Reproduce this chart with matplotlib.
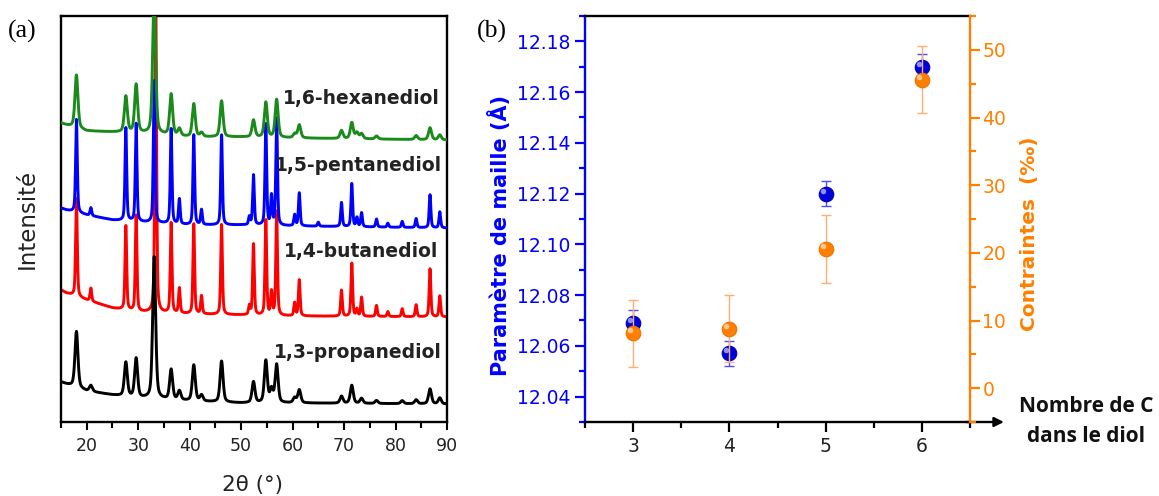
import numpy as np
import matplotlib
matplotlib.use('Agg')
import matplotlib.pyplot as plt
from matplotlib.ticker import MultipleLocator
import matplotlib.transforms as mtransforms

plt.rcParams['font.family'] = ['DejaVu Sans']

# ---------------- Panel (a): XRD patterns ----------------
series_names = ['1,3-propanediol', '1,4-butanediol', '1,5-pentanediol', '1,6-hexanediol']
series_colors = ['#000000', '#FF0000', '#0000FF', '#1A8A1A']
offsets = [18, 105, 194, 282]
hwhm = [0.34, 0.19, 0.19, 0.34]

baseline_x = [15, 16, 20, 25, 30, 40, 50, 60, 90]
baseline_black = [22, 20, 13, 9, 6, 3, 1, 1, 0]
baseline_red = [27, 24, 17, 9, 5, 3, 2, 1, 0]
baseline_blue = [20, 18, 13, 8, 6, 3, 3, 2, 0]
baseline_green = [17, 15, 9, 8, 7, 3, 3, 2, 0]

pos_black = [18.0, 20.8, 27.6, 29.6, 33.1, 36.4, 38.0, 40.8, 42.3, 46.2, 52.4, 54.8, 55.9, 56.9,
             60.4, 61.3, 69.5, 71.5, 73.4, 76.3, 81.3, 84.0, 86.7, 88.6]
h_black = [56, 6, 34, 39, 142, 30, 9, 36, 6, 41, 21, 42, 13, 38,
           5, 13, 7, 18, 5, 3, 3, 4, 15, 6]

pos_red = [18.0, 20.8, 27.6, 29.6, 33.4, 36.4, 38.0, 40.8, 42.3, 46.2, 51.6, 52.4, 54.8, 55.9, 56.9,
           60.4, 61.3, 69.5, 71.5, 72.5, 73.4, 76.3, 78.5, 81.3, 84.0, 86.7, 88.6]
h_red = [98, 13, 84, 96, 320, 90, 25, 90, 18, 90, 9, 71, 95, 23, 104,
         13, 36, 26, 53, 7, 19, 11, 5, 8, 12, 48, 21]

pos_blue = [18.0, 20.8, 27.6, 29.6, 33.1, 36.4, 38.0, 40.8, 42.3, 46.2, 51.6, 52.4, 54.8, 55.9, 56.9,
            60.4, 61.3, 65.0, 69.5, 71.5, 72.5, 73.4, 76.3, 78.5, 81.3, 84.0, 86.7, 88.6]
h_blue = [93, 8, 93, 98, 142, 95, 25, 90, 15, 90, 8, 50, 101, 29, 107,
          11, 33, 4, 24, 43, 9, 14, 8, 4, 6, 9, 33, 16]

pos_green = [18.0, 27.6, 29.6, 33.1, 36.4, 38.0, 40.8, 42.3, 46.2, 52.4, 54.8, 56.9,
             60.4, 61.3, 69.5, 71.5, 72.5, 73.4, 76.3, 84.0, 86.7, 88.6]
h_green = [53, 36, 48, 140, 41, 7, 33, 4, 36, 17, 35, 38,
           4, 13, 8, 16, 6, 5, 3, 4, 12, 5]

label_right_x = [89.0, 88.4, 89.0, 88.6]
label_baseline_y = [64, 165, 251, 318]

# ---------------- Panel (b): lattice parameter and strain ----------------
n_carbon = [3, 4, 5, 6]
lattice = [12.069, 12.057, 12.120, 12.170]
lattice_err = [0.005, 0.005, 0.005, 0.005]
strain = [8.1, 8.8, 20.6, 45.6]
strain_err = [5.0, 5.0, 5.0, 5.0]

W, H = 1159, 496
fig = plt.figure(figsize=(W / 100, H / 100), dpi=100)


def fx(px):
    return px / W


def fy(py):
    return 1 - py / H


axa = fig.add_axes([fx(61), fy(422), fx(447) - fx(61), fy(16) - fy(422)])
tt = np.arange(15, 90.0001, 0.02)


def profile(x0, h, w):
    g = np.exp(-np.log(2) * ((tt - x0) / w) ** 2)
    lor = 1.0 / (1.0 + ((tt - x0) / w) ** 2)
    return h * (0.55 * g + 0.45 * lor)


all_bases = [baseline_black, baseline_red, baseline_blue, baseline_green]
all_pos = [pos_black, pos_red, pos_blue, pos_green]
all_h = [h_black, h_red, h_blue, h_green]
zorders = [4, 2, 3, 4.5]
for i in range(4):
    y = np.interp(tt, baseline_x, all_bases[i]) + offsets[i]
    for p, h in zip(all_pos[i], all_h[i]):
        y = y + profile(p, h, hwhm[i])
    axa.plot(tt, y, color=series_colors[i], lw=2.1, zorder=zorders[i])
    axa.text(label_right_x[i], label_baseline_y[i], series_names[i], ha='right', va='baseline',
             fontsize=13.5, fontweight='bold', color='#222222', zorder=6)

axa.set_xlim(15, 90)
axa.set_ylim(0, 406)
axa.set_yticks([])
axa.xaxis.set_major_locator(MultipleLocator(10))
axa.xaxis.set_minor_locator(MultipleLocator(5))
axa.tick_params(axis='x', which='major', direction='out', length=6, width=1.5,
                labelsize=12.5, labelcolor='#222222', pad=5)
axa.tick_params(axis='x', which='minor', direction='out', length=4, width=1.5)
for s in axa.spines.values():
    s.set_linewidth(1.7)

fig.text(fx(253), fy(485), '2θ (°)', ha='center', va='center', fontsize=15.5, color='#222222')
fig.text(fx(27), fy(219), 'Intensité', ha='center', va='center', rotation=90, fontsize=16.5, color='#222222')
fig.text(fx(8), fy(31), '(a)', ha='left', va='center', fontsize=18.5, family='Liberation Serif')
fig.text(fx(477), fy(31), '(b)', ha='left', va='center', fontsize=18.5, family='Liberation Serif')

# ---------------- Panel (b) ----------------
blue = '#0000FF'
orange = '#FF8000'
axb = fig.add_axes([fx(585), fy(422), fx(970) - fx(585), fy(16) - fy(422)])
axb.set_xlim(2.5, 6.5)
axb.set_ylim(12.03, 12.19)
axb.xaxis.set_major_locator(MultipleLocator(1))
axb.xaxis.set_minor_locator(MultipleLocator(0.5))
axb.yaxis.set_major_locator(MultipleLocator(0.02))
axb.yaxis.set_minor_locator(MultipleLocator(0.01))
axb.yaxis.set_major_formatter(matplotlib.ticker.FormatStrFormatter('%.2f'))

ax2 = axb.twinx()
ax2.set_ylim(-5, 55)
ax2.yaxis.set_major_locator(MultipleLocator(10))
ax2.yaxis.set_minor_locator(MultipleLocator(5))

for s in axb.spines.values():
    s.set_linewidth(1.7)
axb.spines['left'].set_color(blue)
axb.spines['right'].set_visible(False)
axb.spines['top'].set_color('black')
for k, s in ax2.spines.items():
    s.set_linewidth(1.7)
    if k != 'right':
        s.set_visible(False)
ax2.spines['right'].set_color(orange)

axb.tick_params(axis='x', which='major', direction='out', length=7, width=1.6,
                labelsize=13.5, labelcolor='#222222', pad=4)
axb.tick_params(axis='x', which='minor', direction='out', length=4, width=1.6)
axb.tick_params(axis='y', which='major', direction='out', length=7, width=1.6, color=blue,
                labelsize=13.5, labelcolor=blue, pad=3.5)
axb.tick_params(axis='y', which='minor', direction='out', length=4, width=1.6, color=blue)
ax2.tick_params(axis='y', which='major', direction='out', length=7, width=1.6, color=orange,
                labelsize=13.5, labelcolor=orange, pad=2)
ax2.tick_params(axis='y', which='minor', direction='out', length=4, width=1.6, color=orange)

# error bars and sphere-like markers
axb.errorbar(n_carbon, lattice, yerr=lattice_err, fmt='none', ecolor='#4D4DFF',
             elinewidth=1.0, capsize=3.5, capthick=1.0, zorder=2)
axb.plot(n_carbon, lattice, 'o', ms=10.5, mfc='#0000D8', mec='#0000B0', mew=0.8, zorder=3)
hl = mtransforms.ScaledTranslation(-2.2 / 72, 2.2 / 72, fig.dpi_scale_trans)
axb.plot(n_carbon, lattice, 'o', ms=4, mfc='#A0A0FF', mec='none', alpha=0.9,
         transform=axb.transData + hl, zorder=4)

ax2.errorbar(n_carbon, strain, yerr=strain_err, fmt='none', ecolor='#FFB070',
             elinewidth=1.0, capsize=3.5, capthick=1.0, zorder=2)
ax2.plot(n_carbon, strain, 'o', ms=10.5, mfc='#FF8000', mec='#F07000', mew=0.8, zorder=3)
ax2.plot(n_carbon, strain, 'o', ms=4, mfc='#FFD0A0', mec='none', alpha=0.9,
         transform=ax2.transData + hl, zorder=4)

# arrow extending the x axis
axb.annotate('', xy=(1.088, 0), xytext=(0.99, 0), xycoords='axes fraction',
             textcoords='axes fraction',
             arrowprops=dict(arrowstyle='-|>', color='black', lw=1.7, mutation_scale=14,
                             shrinkA=0, shrinkB=0), annotation_clip=False)

fig.text(fx(499), fy(236), 'Paramètre de maille (Å)', rotation=90, ha='center', va='center',
         fontsize=15, fontweight='bold', color=blue)
fig.text(fx(1030), fy(234), 'Contraintes  (‰)', rotation=90, ha='center', va='center',
         fontsize=14.5, fontweight='bold', color=orange)
fig.text(fx(1086), fy(407), 'Nombre de C', ha='center', va='center', fontsize=15,
         fontweight='bold', family='Open Sans', color='#111111')
fig.text(fx(1086), fy(437), 'dans le diol', ha='center', va='center', fontsize=15,
         fontweight='bold', family='Open Sans', color='#111111')

fig.savefig('out.png', dpi=100)
